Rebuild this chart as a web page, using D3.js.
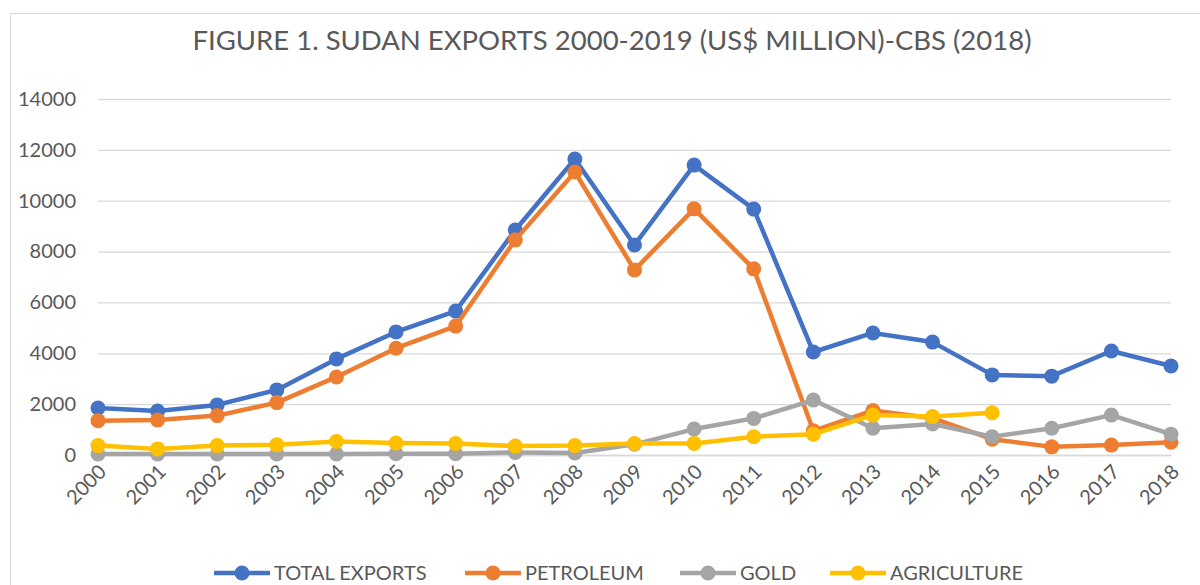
<!DOCTYPE html>
<html><head><meta charset="utf-8">
<script src="https://cdn.jsdelivr.net/npm/d3@7"></script>
<style>body{margin:0;background:#fff;} svg{display:block;}</style>
</head><body>
<svg id="c" width="1200" height="585"></svg>
<script>
const years = ["2000","2001","2002","2003","2004","2005","2006","2007","2008","2009","2010","2011","2012","2013","2014","2015","2016","2017","2018"];
const totalExports = [1850,1730,1970,2560,3780,4840,5660,8850,11640,8260,11400,9670,4050,4800,4440,3150,3100,4090,3500];
const petroleum = [1350,1380,1550,2060,3070,4200,5070,8460,11130,7280,9680,7320,950,1750,1450,620,320,390,500];
const gold = [40,40,40,40,40,50,50,100,80,420,1020,1440,2160,1050,1220,720,1050,1570,820];
const agriculture = [370,240,370,400,530,470,450,350,370,450,450,720,820,1570,1510,1660];
const yTicks = [0,2000,4000,6000,8000,10000,12000,14000];
const seriesNames = ["TOTAL EXPORTS","PETROLEUM","GOLD","AGRICULTURE"];
const seriesColors = ["#4472C4","#ED7D31","#A5A5A5","#FFC000"];
const seriesData = [totalExports, petroleum, gold, agriculture];

const svg = d3.select("#c");
const font = "Lato, 'Open Sans', sans-serif";
const textColor = "#595959";

// chart frame
svg.append("rect").attr("x",10.5).attr("y",13.5).attr("width",1300).attr("height",700)
  .attr("fill","none").attr("stroke","#D9D9D9").attr("stroke-width",1);

svg.append("text").attr("x",612).attr("y",50).attr("text-anchor","middle")
  .attr("font-family",font).attr("font-size",27.5).attr("fill",textColor)
  .text("FIGURE 1. SUDAN EXPORTS 2000-2019 (US$ MILLION)-CBS (2018)");

const x = d3.scalePoint().domain(years).range([98,1171]);
const y = d3.scaleLinear().domain([0,14000]).range([455,99]);

// gridlines
const yAxis = d3.axisLeft(y).tickValues(yTicks).tickFormat(d3.format("d")).tickSize(-(1171-98)).tickPadding(22);
const gy = svg.append("g").attr("transform","translate(98,0)").call(yAxis);
gy.select(".domain").remove();
gy.selectAll(".tick line").attr("stroke","#D9D9D9").attr("stroke-width",1.3);
gy.selectAll(".tick text").attr("font-family",font).attr("font-size",20).attr("fill",textColor);

// x axis
const xAxis = d3.axisBottom(x).tickSize(0).tickPadding(0);
const gx = svg.append("g").attr("transform","translate(0,455)").call(xAxis);
gx.select(".domain").attr("stroke","#D9D9D9").attr("stroke-width",1.3);
gx.selectAll(".tick text").attr("font-family",font).attr("font-size",20).attr("fill",textColor)
  .attr("text-anchor","end").attr("dy",0)
  .attr("transform","translate(9,18) rotate(-45)");

// series
const line = d3.line().x((d,i)=>x(years[i])).y(d=>y(d));
seriesData.forEach((data,k)=>{
  const g = svg.append("g");
  g.append("path").datum(data).attr("d",line).attr("fill","none")
    .attr("stroke",seriesColors[k]).attr("stroke-width",4.5).attr("stroke-linejoin","round");
  g.selectAll("circle").data(data).join("circle")
    .attr("cx",(d,i)=>x(years[i])).attr("cy",d=>y(d)).attr("r",7.5).attr("fill",seriesColors[k]);
});

// legend
const legendX = [214,465,680,830];
const lg = svg.append("g");
seriesNames.forEach((n,k)=>{
  const lx = legendX[k];
  lg.append("line").attr("x1",lx).attr("x2",lx+56).attr("y1",573).attr("y2",573)
    .attr("stroke",seriesColors[k]).attr("stroke-width",4.5);
  lg.append("circle").attr("cx",lx+28).attr("cy",573).attr("r",7.5).attr("fill",seriesColors[k]);
  lg.append("text").attr("x",lx+60).attr("y",580).attr("font-family",font).attr("font-size",20)
    .attr("fill",textColor).text(n);
});
</script>
</body></html>
